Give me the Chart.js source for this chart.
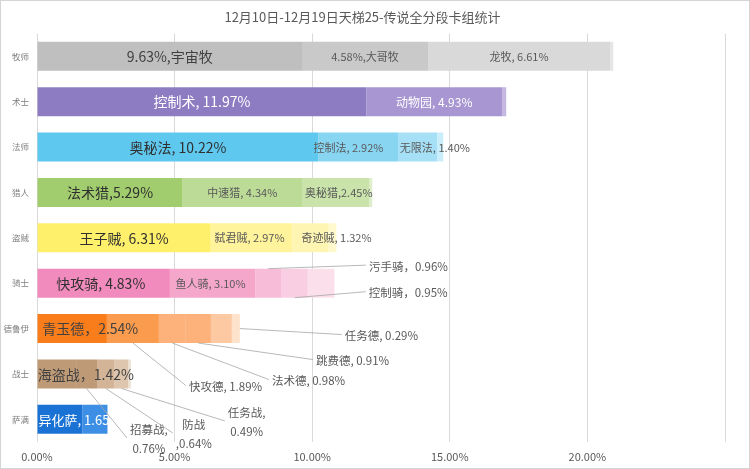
<!DOCTYPE html>
<html><head><meta charset="utf-8">
<script src="https://cdn.jsdelivr.net/npm/chart.js@4/dist/chart.umd.min.js"></script>
<style>html,body{margin:0;padding:0;background:#fff}</style>
</head><body>
<canvas id="c" width="750" height="469"></canvas>
<script>
const chartTitle = '12月10日-12月19日天梯25-传说全分段卡组统计';
const classes = ['牧师','术士','法师','猎人','盗贼','骑士','德鲁伊','战士','萨满'];
const xTicks = [0, 5, 10, 15, 20, 25];

// stacked segments (percent of all decks), by class
const seg1 = [9.63, 11.97, 10.22, 5.29, 6.31, 4.83, 2.54, 1.42, 1.65];
const seg2 = [4.58, 4.93, 2.92, 4.34, 2.97, 3.10, 1.89, 0.76, 0.91];
const seg3 = [6.61, 0.15, 1.40, 2.45, 1.32, 0.96, 0.98, 0.64, null];
const seg4 = [0.12, null, 0.22, 0.10, 0.28, 0.95, 0.91, 0.49, null];
const seg5 = [null, null, null, null, null, 0.97, 0.76, 0.10, null];
const seg6 = [null, null, null, null, null, null, 0.29, null, null];

// deck names per segment
const names1 = ['宇宙牧','控制术','奥秘法','法术猎','王子贼','快攻骑','青玉德','海盗战','异化萨'];
const names2 = ['大哥牧','动物园','控制法','中速猎','弑君贼','鱼人骑','快攻德','招募战',''];
const names3 = ['龙牧','','无限法','奥秘猎','奇迹贼','污手骑','法术德','防战',''];
const names4 = ['','','','','','控制骑','跳费德','任务战',''];
const names6 = ['','','','','','','任务德','',''];

const segs = [seg1, seg2, seg3, seg4, seg5, seg6];
const names = [names1, names2, names3, names4, null, names6];

const palettes = [
  ['#bfbfbf','#c9c9c9','#d9d9d9','#e6e6e6'],
  ['#8e7cc3','#a796d2','#c4b8e3'],
  ['#5ec8ef','#88d5f2','#a6e0f6','#c9edfa'],
  ['#a2cd6e','#bcdb97','#c9e3ab','#ddeec9'],
  ['#fff06c','#fff39b','#fff5b3','#fff9cd'],
  ['#f28bbd','#f5a6cb','#f7bcd7','#f9cee2','#fbe0ec'],
  ['#fa7d1c','#fb9b4d','#fdb27b','#fdb27b','#fdc9a2','#fde2cc'],
  ['#bf9a76','#bf9a76','#d3b497','#dec5ad','#ede1d4'],
  ['#1a72d5','#3c8fe4']
];

const FONT = "'Noto Sans CJK SC','Noto Sans',sans-serif";
Chart.defaults.font.family = FONT;

function fmt(tpl, k, i) {
  return tpl.replace('{n}', names[k][i]).replace('{v}', segs[k][i].toFixed(2));
}

// in-bar labels: [segment, class, template, size, color, dx]
const barLabels = [
  [0,0,'{v}%,{n}',14,'#404040',0],[1,0,'{v}%,{n}',11,'#595959',0],[2,0,'{n}, {v}%',11,'#595959',0],
  [0,1,'{n}, {v}%',14,'#ffffff',0],[1,1,'{n}, {v}%',12,'#ffffff',0],
  [0,2,'{n}, {v}%',14,'#303030',0],[1,2,'{n}, {v}%',11,'#595959',-10],[2,2,'{n}, {v}%',11,'#595959',17],
  [0,3,'{n},{v}%',14,'#303030',0],[1,3,'{n}, {v}%',11,'#595959',0],[2,3,'{n},{v}%',11,'#595959',3],
  [0,4,'{n}, {v}%',14,'#303030',0],[1,4,'{n}, {v}%',11,'#595959',-2],[2,4,'{n}, {v}%',11,'#595959',26],
  [0,5,'{n}, {v}%',14,'#303030',-3],[1,5,'{n}, {v}%',11,'#595959',-2],
  [0,6,'{n}，{v}%',14,'#404040',18],
  [0,7,'{n}，{v}%',14,'#404040',29],
  [0,8,'{n}, {v}',13,'#ffffff',14]
];
// leader labels: [segment, class, anchor side, line end dx, dy, template lines]
const leaderLabels = [
  [2,5,'top',97.5,-3.5,['{n}，{v}%']],
  [3,5,'bottom',71,-6,['{n}，{v}%']],
  [1,6,'bottom',53,42.5,['{n}, {v}%']],
  [2,6,'bottom',96.5,36.5,['{n}, {v}%']],
  [3,6,'bottom',114.5,16.5,['{n}, {v}%']],
  [5,6,'end',102,6,['{n}, {v}%']],
  [1,7,'bottom',40.5,49.5,['{n},','{v}%']],
  [2,7,'bottom',67,44.5,['{n}',',{v}%']],
  [3,7,'bottom',103.5,32.5,['{n},','{v}%']]
];

const frame = {
  id: 'frame',
  beforeDraw(c) { const x = c.ctx; x.save(); x.fillStyle = '#fff'; x.fillRect(0,0,c.width,c.height); x.restore(); },
  afterDraw(c) { const x = c.ctx; x.save(); x.strokeStyle = '#d4d4d4'; x.lineWidth = 1; x.strokeRect(0.5,0.5,c.width-1,c.height-1); x.restore(); }
};

const labelsPlugin = {
  id: 'segLabels',
  afterDatasetsDraw(c) {
    const ctx = c.ctx;
    ctx.save();
    ctx.textBaseline = 'middle';
    for (const [k,i,tpl,size,color,dx] of barLabels) {
      const el = c.getDatasetMeta(k).data[i];
      if (!el) continue;
      const p = el.getProps(['x','y','base'], true);
      ctx.font = size + 'px ' + FONT;
      ctx.fillStyle = color;
      ctx.textAlign = 'center';
      ctx.fillText(fmt(tpl,k,i), (p.x + p.base)/2 + dx, p.y + 0.5);
    }
    ctx.font = '11.5px ' + FONT;
    for (const [k,i,side,ex,ey,lines] of leaderLabels) {
      const el = c.getDatasetMeta(k).data[i];
      if (!el) continue;
      const p = el.getProps(['x','y','base','height'], true);
      let ax, ay;
      if (side === 'top') { ax = (p.x+p.base)/2; ay = p.y - p.height/2; }
      else if (side === 'bottom') { ax = (p.x+p.base)/2; ay = p.y + p.height/2; }
      else { ax = p.x; ay = p.y; }
      const bx = ax + ex, by = ay + ey;
      ctx.strokeStyle = '#a6a6a6'; ctx.lineWidth = 0.8;
      ctx.beginPath(); ctx.moveTo(ax, ay); ctx.lineTo(bx, by); ctx.stroke();
      ctx.fillStyle = '#595959';
      const texts = lines.map(t => fmt(t,k,i));
      if (texts.length === 1) {
        ctx.textAlign = 'left';
        ctx.fillText(texts[0], bx + 3, by + 1);
      } else {
        const w = Math.max(...texts.map(t => ctx.measureText(t).width));
        ctx.textAlign = 'center';
        const lh = 18.5;
        texts.forEach((t, j) => ctx.fillText(t, bx + 3 + w/2, by - lh/2 + j*lh + 1));
      }
    }
    ctx.restore();
  }
};

const datasets = segs.map((d, k) => ({
  data: d,
  backgroundColor: classes.map((_, i) => palettes[i][k] || '#eeeeee'),
  borderWidth: 0,
  categoryPercentage: 1,
  barPercentage: 0.64
}));

new Chart(document.getElementById('c'), {
  type: 'bar',
  data: { labels: classes, datasets },
  options: {
    indexAxis: 'y',
    responsive: false,
    animation: false,
    layout: { padding: { left: 0, right: 25, top: 0, bottom: 0 } },
    plugins: {
      legend: { display: false },
      tooltip: { enabled: false },
      title: { display: true, text: chartTitle, color: '#595959',
        font: { size: 13, weight: 'normal', family: FONT }, padding: { top: 9, bottom: 9 } }
    },
    scales: {
      x: {
        stacked: true, min: xTicks[0], max: xTicks[xTicks.length-1],
        afterBuildTicks(s) { s.ticks = xTicks.map(v => ({ value: v })); },
        ticks: { color: '#595959', font: { size: 11 }, padding: 8,
          callback: v => v === 25 ? '' : v.toFixed(2) + '%' },
        grid: { color: '#d9d9d9', drawTicks: false },
        border: { display: false },
        afterFit(s) { s.height = 27; }
      },
      y: {
        stacked: true,
        grid: { display: false, drawTicks: false },
        border: { display: false },
        ticks: { color: '#7f7f7f', font: { size: 8.5 }, padding: 8 },
        afterFit(s) { s.width = 37; }
      }
    }
  },
  plugins: [frame, labelsPlugin]
});
</script>
</body></html>
